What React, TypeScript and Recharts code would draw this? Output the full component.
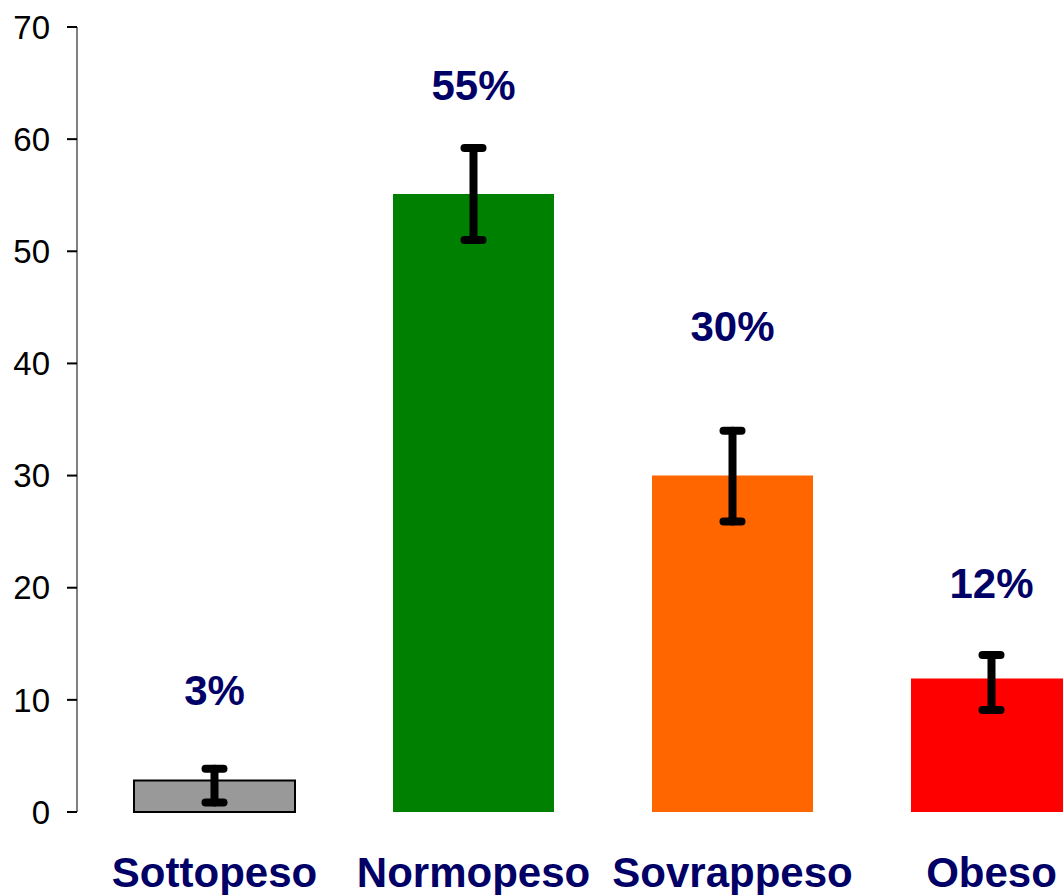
import React from 'react';
import {
  ComposedChart, Bar, Line, XAxis, YAxis, ErrorBar, Cell, LabelList,
} from 'recharts';

const categories = ['Sottopeso', 'Normopeso', 'Sovrappeso', 'Obeso'];
const values = [2.8, 55.1, 30, 11.9];
// [minus, plus] around each bar
const errors = [[1.95, 1.05], [4.1, 4.1], [4.1, 4.0], [2.8, 2.1]];
const pctLabels = ['3%', '55%', '30%', '12%'];
// where each percentage text sits, in axis units (baseline)
const labelAt = [9.5, 63.5, 42, 19.1];
const yTicks = [0, 10, 20, 30, 40, 50, 60, 70];

const colors = ['#999999', '#008000', '#FF6600', '#FF0000'];
const strokes = ['#000000', 'none', 'none', 'none'];

const data = categories.map((name, i) => ({
  name,
  value: values[i],
  err: errors[i],
  pct: pctLabels[i],
  labelAt: labelAt[i],
}));

const NAVY = '#000066';
const FONT = "'Liberation Sans', Arial, sans-serif";

const PctLabel = (props: any) => {
  const { x, y, value } = props;
  return (
    <text x={x} y={y} textAnchor="middle" fill={NAVY} fontFamily={FONT}
      fontWeight="bold" fontSize={42}>
      {value}
    </text>
  );
};

export default function App() {
  return (
    <div style={{
      position: 'fixed', left: 0, top: 0, width: 1063, height: 895,
      overflow: 'hidden', background: '#fff',
    }}>
      <ComposedChart width={1121} height={895} data={data}
        margin={{ top: 27, right: 0, bottom: 0, left: 0 }}>
        <XAxis dataKey="name" axisLine={false} tickLine={false} tickSize={0}
          tickMargin={45} height={83} padding={{ left: 8, right: 0 }}
          tick={{ fill: NAVY, fontSize: 42, fontWeight: 'bold', fontFamily: FONT }}
          interval={0} />
        <YAxis domain={[0, 70]} ticks={yTicks} width={77} tickSize={10}
          tickMargin={17} interval={0}
          axisLine={{ stroke: '#808080', strokeWidth: 2 }}
          tickLine={{ stroke: '#000', strokeWidth: 2 }}
          tick={{ fill: '#000', fontSize: 33, fontFamily: FONT }} />
        <Bar dataKey="value" barSize={161} isAnimationActive={false}>
          {data.map((d, i) => (
            <Cell key={d.name} fill={colors[i]} stroke={strokes[i]} strokeWidth={2} />
          ))}
          <ErrorBar dataKey="err" direction="y" width={9} stroke="#000"
            strokeWidth={8} strokeLinecap="round" isAnimationActive={false} />
        </Bar>
        <Line dataKey="labelAt" stroke="none" dot={false} activeDot={false}
          isAnimationActive={false}>
          <LabelList dataKey="pct" content={PctLabel} />
        </Line>
      </ComposedChart>
    </div>
  );
}
